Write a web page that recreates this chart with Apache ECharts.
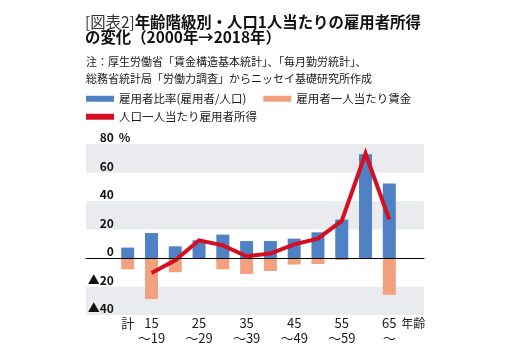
<!DOCTYPE html>
<html><head><meta charset="utf-8">
<script src="https://cdn.jsdelivr.net/npm/echarts@6/dist/echarts.min.js"></script>
<style>html,body{margin:0;padding:0;background:#fff}#c{width:511px;height:360px}</style>
</head><body><div id="c"></div>
<script>
const categories = ['計','15～19','20～24','25～29','30～34','35～39','40～44','45～49','50～54','55～59','60～64','65～'];
const employmentRatio = [7.3, 17.5, 8.2, 12.4, 16.4, 11.9, 11.9, 13.6, 18.0, 27.0, 72.8, 52.2];
const wagePerEmployee = [-7.9, -28.8, -10.0, 0, -7.9, -11.2, -9.1, -4.6, -4.2, -1.4, -0.4, -25.8];
const incomePerCapita = [null, -10.5, -1.6, 12.4, 8.9, 1.2, 3.1, 9.6, 13.6, 26.0, 73.3, 27.0];
const yTicks = {min: -40, max: 80, interval: 20};
const seriesNames = ['雇用者比率(雇用者/人口)', '雇用者一人当たり賃金', '人口一人当たり雇用者所得'];

const FONT = 'Noto Sans CJK JP';
const chart = echarts.init(document.getElementById('c'), null, {renderer: 'canvas'});
const gray = '#e9ebee';
chart.setOption({
  animation: false,
  backgroundColor: '#fff',
  textStyle: {fontFamily: FONT, color: '#1a1a1a'},
  title: [
    {
      text: '{a|[図表2]}{b|年齢階級別・人口1人当たりの雇用者所得}\n{b|の変化（2000年→2018年）}',
      left: 85, top: 14, padding: 0,
      textStyle: {
        fontFamily: FONT, fontSize: 15.4, lineHeight: 15.5,
        rich: {
          a: {fontFamily: FONT, fontSize: 15.4, fontWeight: 'normal', color: '#333', lineHeight: 15.5},
          b: {fontFamily: FONT, fontSize: 15.4, fontWeight: 'bold', color: '#111', lineHeight: 15.5}
        }
      }
    },
    {
      text: '注：厚生労働省「賃金構造基本統計」、「毎月勤労統計」、\n総務省統計局「労働力調査」からニッセイ基礎研究所作成',
      left: 86, top: 53, padding: 0,
      textStyle: {fontFamily: FONT, fontSize: 11, lineHeight: 17.5, fontWeight: 'normal', color: '#1a1a1a'}
    }
  ],
  legend: [
    {
      data: [seriesNames[0], seriesNames[1]], left: 86, top: 93, padding: 0,
      itemWidth: 28, itemHeight: 6, itemGap: 17, icon: 'rect',
      textStyle: {fontFamily: FONT, fontSize: 11.5, color: '#1a1a1a'}
    },
    {
      data: [{name: seriesNames[2], icon: 'rect', itemStyle: {color: '#d40f22', borderWidth: 0, borderColor: 'transparent'}}],
      left: 86, top: 111, padding: 0,
      itemWidth: 28, itemHeight: 6, icon: 'rect',
      itemStyle: {borderWidth: 0},
      textStyle: {fontFamily: FONT, fontSize: 11.5, color: '#1a1a1a'}
    }
  ],
  grid: [
    {left: 86, right: 87, top: 144, bottom: 45, containLabel: false},
    {left: 115.8, right: 109.8, top: 144, bottom: 45, containLabel: false}
  ],
  xAxis: [
    {
      gridIndex: 0, type: 'value', min: 0, max: 1, z: 5,
      axisLine: {show: true, onZero: true, lineStyle: {color: '#000', width: 1}},
      axisTick: {show: false}, axisLabel: {show: false}, splitLine: {show: false}
    },
    {
      gridIndex: 1, type: 'category', data: categories,
      axisLine: {show: false, onZero: false}, axisTick: {show: false},
      splitLine: {show: false},
      axisLabel: {
        interval: (i) => i === 0 || i % 2 === 1,
        formatter: (v) => v.replace('～', '\n～'),
        fontFamily: FONT, fontSize: 13, lineHeight: 15, color: '#1a1a1a', margin: 1
      },
      name: '年齢', nameLocation: 'end', nameGap: 0, nameMoveOverlap: false,
      nameTextStyle: {fontFamily: FONT, fontSize: 12, color: '#1a1a1a', align: 'left', verticalAlign: 'top', lineHeight: 15, padding: [1, 0, 0, 0]}
    }
  ],
  yAxis: [
    {
      gridIndex: 0, type: 'value', min: yTicks.min, max: yTicks.max, interval: yTicks.interval,
      axisLine: {show: false}, axisTick: {show: false}, axisLabel: {show: false},
      splitLine: {show: false},
      splitArea: {show: true, areaStyle: {color: [gray, '#ffffff', '#ffffff', gray, '#ffffff', gray]}}
    },
    {
      gridIndex: 1, type: 'value', min: yTicks.min, max: yTicks.max, interval: yTicks.interval,
      axisLine: {show: false}, axisTick: {show: false}, splitLine: {show: false},
      axisLabel: {
        formatter: (v) => v < 0 ? '▲' + (-v) : String(v),
        fontFamily: FONT, fontSize: 12, fontWeight: 'bold', color: '#111',
        verticalAlign: 'bottom', lineHeight: 13, margin: 2
      },
      name: '%', nameLocation: 'end', nameGap: 0, nameMoveOverlap: false,
      nameTextStyle: {fontFamily: FONT, fontSize: 12, fontWeight: 'bold', color: '#111', align: 'left', verticalAlign: 'bottom', lineHeight: 13, padding: [0, 0, 0, 3]}
    }
  ],
  series: [
    {
      name: seriesNames[0], type: 'bar', xAxisIndex: 1, yAxisIndex: 1,
      data: employmentRatio, barWidth: 13, barGap: '-100%',
      itemStyle: {color: '#5081c4'}, z: 2
    },
    {
      name: seriesNames[1], type: 'bar', xAxisIndex: 1, yAxisIndex: 1,
      data: wagePerEmployee, barWidth: 13, barGap: '-100%',
      itemStyle: {color: '#f2a07e'}, z: 2
    },
    {
      name: seriesNames[2], type: 'line', xAxisIndex: 1, yAxisIndex: 1,
      data: incomePerCapita, showSymbol: false, symbol: 'none',
      lineStyle: {color: '#d40f22', width: 4, join: 'miter'},
      itemStyle: {color: '#d40f22'}, z: 4
    }
  ]
});
</script>
</body></html>
